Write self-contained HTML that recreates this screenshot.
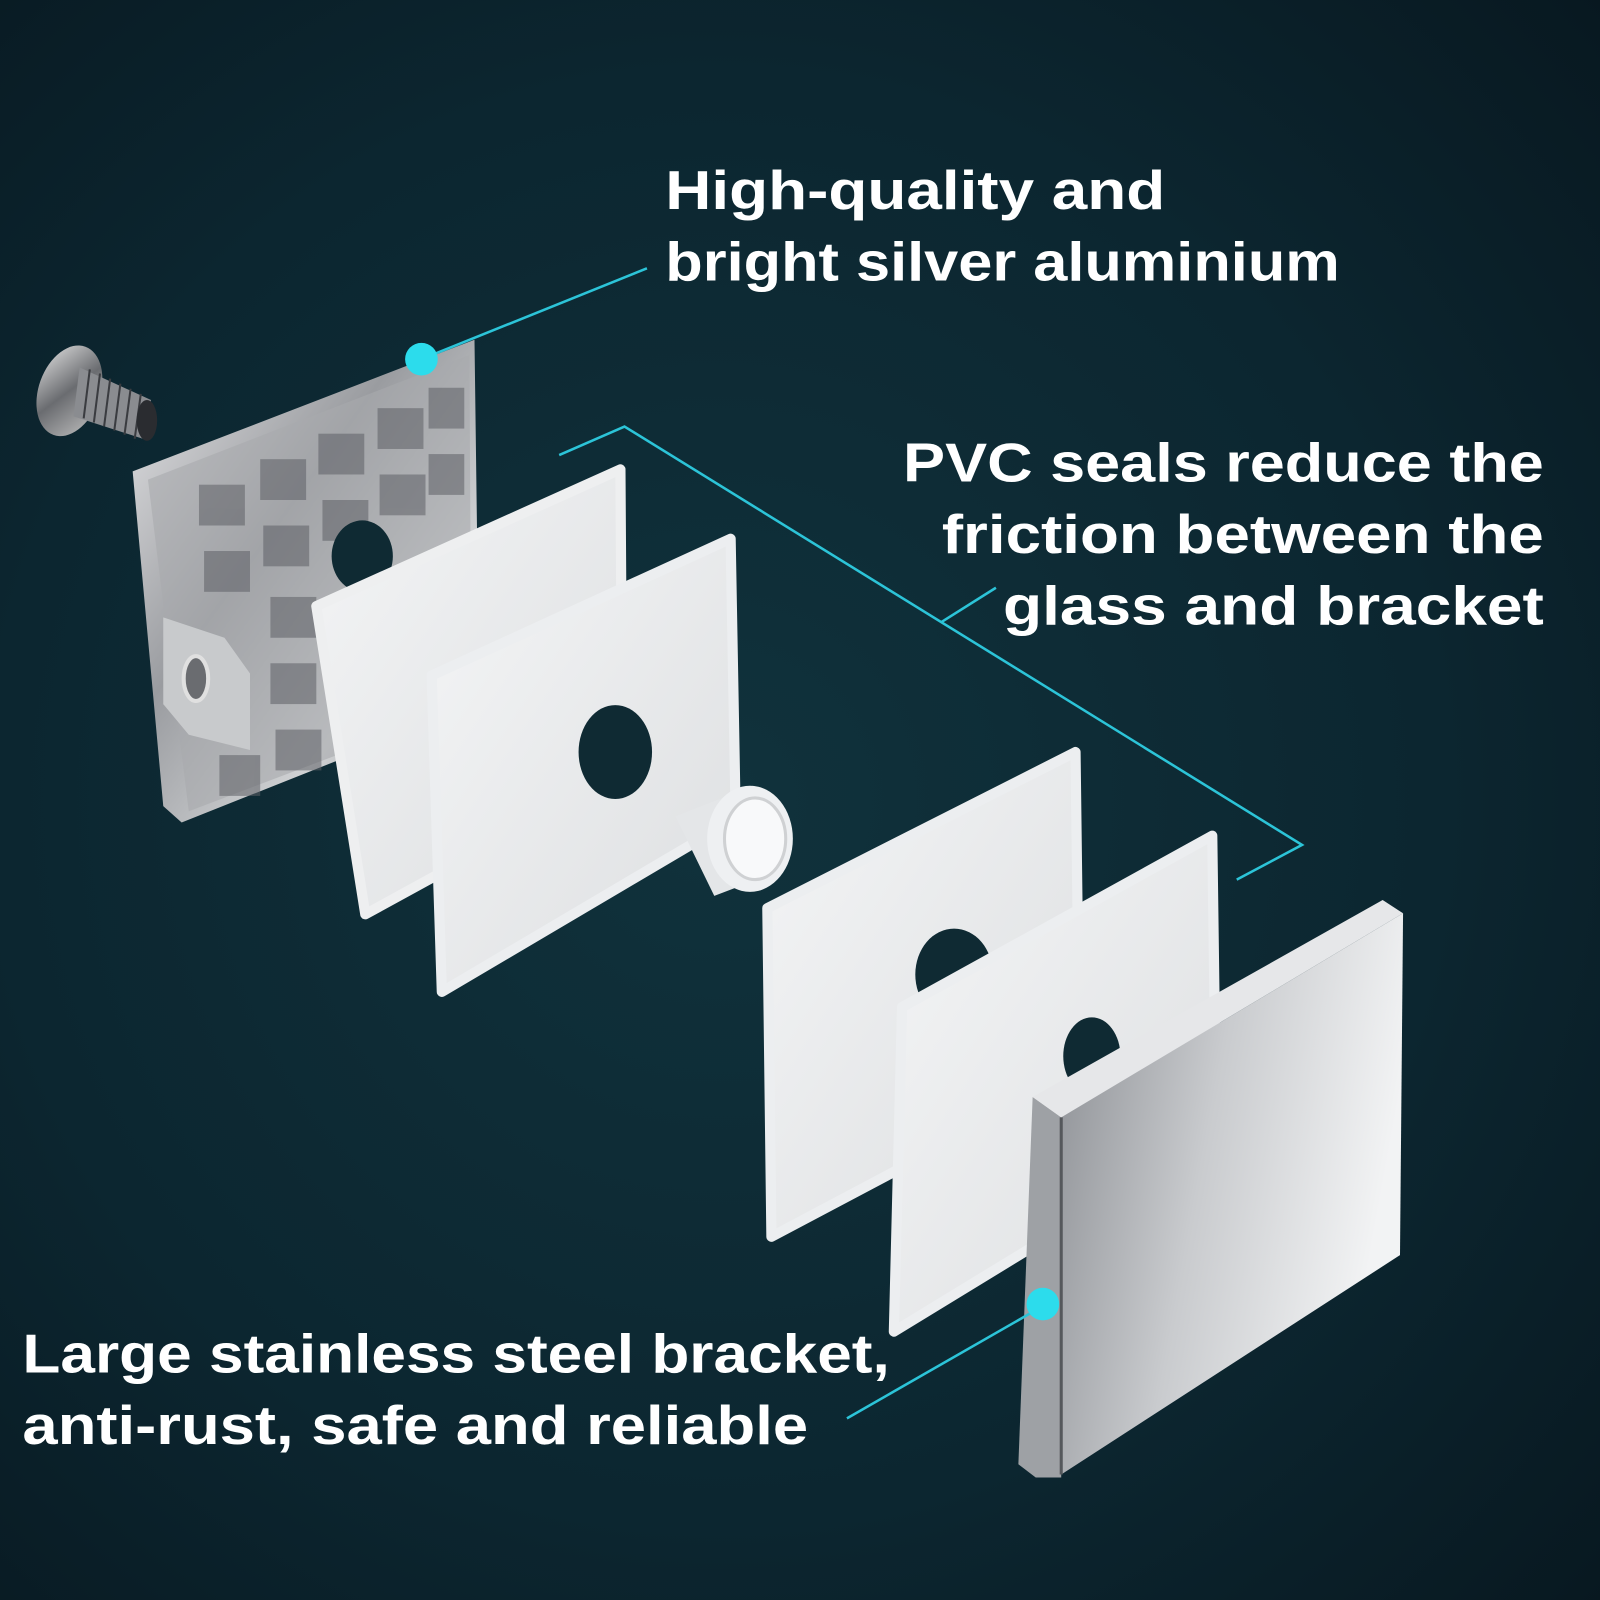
<!DOCTYPE html>
<html><head><meta charset="utf-8"><style>
html,body{margin:0;padding:0;width:1600px;height:1600px;overflow:hidden;background:#0c2029}
svg{display:block}
text{font-family:"Liberation Sans",sans-serif;font-weight:bold;fill:#fff;font-size:54px}
.sl{stroke-linejoin:round;stroke-width:10}
</style></head><body>
<svg width="1600" height="1600" viewBox="0 0 1568 1568" xmlns="http://www.w3.org/2000/svg">
<defs>
<radialGradient id="bg" cx="0.45" cy="0.5" r="0.75">
<stop offset="0" stop-color="#10323c"/><stop offset="0.6" stop-color="#0c2630"/><stop offset="1" stop-color="#081820"/>
</radialGradient>
<linearGradient id="alu" x1="0" y1="0" x2="1" y2="1">
<stop offset="0" stop-color="#e8e8ea"/><stop offset="0.4" stop-color="#9a9ca0"/><stop offset="0.7" stop-color="#d0d2d4"/><stop offset="1" stop-color="#7a7c80"/>
</linearGradient>
<linearGradient id="steel" x1="0" y1="0" x2="1" y2="0.3">
<stop offset="0" stop-color="#8a8d92"/><stop offset="0.5" stop-color="#c9cbce"/><stop offset="1" stop-color="#f2f3f4"/>
</linearGradient>
<linearGradient id="seal" x1="0" y1="0" x2="1" y2="1">
<stop offset="0" stop-color="#f4f5f6"/><stop offset="1" stop-color="#dcdee0"/>
</linearGradient>
<linearGradient id="scr" x1="0" y1="0" x2="1" y2="1">
<stop offset="0" stop-color="#e0e0e0"/><stop offset="0.5" stop-color="#6a6c70"/><stop offset="1" stop-color="#c0c0c0"/>
</linearGradient>
</defs>
<rect width="1568" height="1568" fill="url(#bg)"/>

<!-- screw -->
<ellipse cx="68" cy="383" rx="30" ry="46" transform="rotate(20 68 383)" fill="url(#scr)"/>
<polygon points="78,360 148,392 140,430 72,408" fill="#8a8c90"/>
<g stroke="#3a3c40" stroke-width="2">
<line x1="88" y1="362" x2="82" y2="410"/><line x1="98" y1="366" x2="92" y2="414"/><line x1="108" y1="371" x2="102" y2="418"/><line x1="118" y1="376" x2="112" y2="422"/><line x1="128" y1="381" x2="122" y2="426"/><line x1="138" y1="386" x2="132" y2="430"/>
</g>
<ellipse cx="144" cy="412" rx="10" ry="20" fill="#2a2c30"/>

<!-- aluminium plate -->
<polygon points="130,462 465,333 468,560 470,690 178,806 160,790" fill="url(#alu)"/>
<polygon points="145,470 460,348 462,690 185,795" fill="#a8aaae" opacity="0.6"/>
<g fill="#5e6066" opacity="0.55">
<rect x="195" y="475" width="45" height="40"/><rect x="255" y="450" width="45" height="40"/><rect x="312" y="425" width="45" height="40"/><rect x="370" y="400" width="45" height="40"/><rect x="420" y="380" width="35" height="40"/>
<rect x="200" y="540" width="45" height="40"/><rect x="258" y="515" width="45" height="40"/><rect x="316" y="490" width="45" height="40"/><rect x="372" y="465" width="45" height="40"/><rect x="420" y="445" width="35" height="40"/>
<rect x="265" y="585" width="45" height="40"/><rect x="265" y="650" width="45" height="40"/><rect x="270" y="715" width="45" height="40"/><rect x="215" y="740" width="40" height="40"/>
</g>
<ellipse cx="355" cy="545" rx="30" ry="35" fill="#0f2a33"/>
<polygon points="160,605 220,625 245,660 245,735 185,720 160,690" fill="#c8cacc"/>
<ellipse cx="192" cy="665" rx="12" ry="22" fill="#6a6c70" stroke="#e0e0e0" stroke-width="4"/>

<!-- seals 1,2 -->
<polygon class="sl" stroke="#eeeff0" points="310,594 608,460 610,758 358,896" fill="url(#seal)"/>
<polygon class="sl" stroke="#eceef0" points="423,662 716,528 721,802 433,972" fill="url(#seal)"/>
<ellipse cx="603" cy="737" rx="36" ry="46" fill="#0f2a33"/>
<!-- cylinder -->
<polygon points="662,800 738,770 760,855 700,878" fill="#e4e6e8"/>
<ellipse cx="735" cy="822" rx="42" ry="52" fill="#eef0f2"/>
<ellipse cx="740" cy="822" rx="30" ry="40" fill="#f8f9fa" stroke="#cfd1d3" stroke-width="3"/>

<!-- seals 3,4 -->
<polygon class="sl" stroke="#eceef0" points="752,890 1054,737 1058,1052 756,1212" fill="url(#seal)"/>
<ellipse cx="935" cy="955" rx="38" ry="45" fill="#0f2a33"/>
<polygon class="sl" stroke="#eceef0" points="884,987 1188,819 1192,1112 876,1305" fill="url(#seal)"/>
<ellipse cx="1070" cy="1035" rx="28" ry="38" fill="#0f2a33"/>

<!-- steel plate -->
<polygon points="1012,1075 1040,1095 1040,1448 1015,1448 998,1435" fill="#9ea1a5"/>
<polygon points="1012,1075 1355,882 1375,895 1040,1095" fill="#e6e7e9"/>
<polygon points="1040,1095 1375,895 1372,1230 1040,1445" fill="url(#steel)"/>
<line x1="1040" y1="1095" x2="1040" y2="1445" stroke="#55585c" stroke-width="3"/>

<!-- connectors -->
<g stroke="#2cc4d8" stroke-width="2.5" fill="none">
<line x1="413" y1="352" x2="634" y2="263"/>
<polyline points="548,446 612,418 1276,828 1212,862"/>
<line x1="922" y1="610" x2="976" y2="576"/>
<line x1="1022" y1="1280" x2="830" y2="1390"/>
</g>
<circle cx="413" cy="352" r="16" fill="#2cdcec"/>
<circle cx="1022" cy="1278" r="16" fill="#2cdcec"/>

<!-- text -->
<text x="652" y="205" textLength="490" lengthAdjust="spacingAndGlyphs">High-quality and</text>
<text x="652" y="275" textLength="661" lengthAdjust="spacingAndGlyphs">bright silver aluminium</text>
<text x="1513" y="472" text-anchor="end" textLength="628" lengthAdjust="spacingAndGlyphs">PVC seals reduce the</text>
<text x="1513" y="542" text-anchor="end" textLength="590" lengthAdjust="spacingAndGlyphs">friction between the</text>
<text x="1513" y="612" text-anchor="end" textLength="530" lengthAdjust="spacingAndGlyphs">glass and bracket</text>
<text x="22" y="1345" textLength="850" lengthAdjust="spacingAndGlyphs">Large stainless steel bracket,</text>
<text x="22" y="1415" textLength="770" lengthAdjust="spacingAndGlyphs">anti-rust, safe and reliable</text>
</svg>
</body></html>
